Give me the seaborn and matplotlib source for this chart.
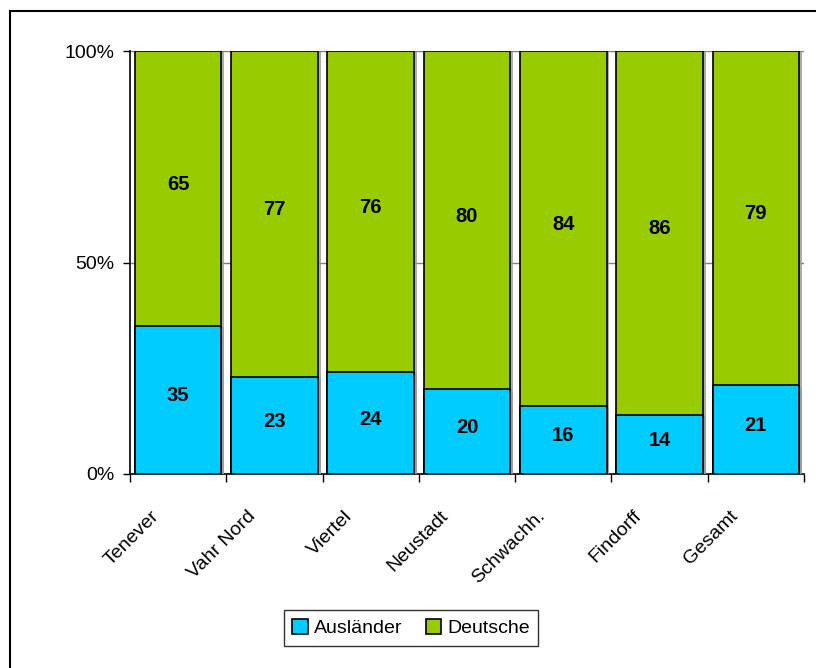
import matplotlib
matplotlib.use('Agg')
import matplotlib.pyplot as plt
import matplotlib.patheffects as pe
from matplotlib.patches import Rectangle
from matplotlib.transforms import ScaledTranslation
import pandas as pd
import seaborn as sns

# Daten (Anteile in %)
stadtteile = ['Tenever', 'Vahr Nord', 'Viertel', 'Neustadt', 'Schwachh.', 'Findorff', 'Gesamt']
auslaender = [35, 23, 24, 20, 16, 14, 21]
deutsche = [65, 77, 76, 80, 84, 86, 79]

blau = '#00CCFF'
gruen = '#99CC00'

sns.set_style('white')
plt.rcParams['font.family'] = ['Liberation Sans', 'DejaVu Sans']
plt.rcParams['text.color'] = 'black'
plt.rcParams['xtick.color'] = 'black'
plt.rcParams['ytick.color'] = 'black'
plt.rcParams['axes.labelcolor'] = 'black'

df = pd.DataFrame({'Stadtteil': stadtteile,
                   'Ausländer': auslaender,
                   'Deutsche': deutsche})
df['Summe'] = df['Ausländer'] + df['Deutsche']

fig = plt.figure(figsize=(8.16, 6.68), dpi=100)
ax = fig.add_axes([130/816, 1-474/668, (804-130)/816, (474-51)/668])

schatten = [pe.SimplePatchShadow(offset=(2, -1), shadow_rgbFace='#999999', alpha=0.8), pe.Normal()]

# gestapelt: erst Gesamtbalken (grün), dann Ausländer (blau) darüber
sns.barplot(data=df, x='Stadtteil', y='Summe', color=gruen, width=0.9,
            edgecolor='black', linewidth=1.2, saturation=1, ax=ax, zorder=3)
sns.barplot(data=df, x='Stadtteil', y='Ausländer', color=blau, width=0.9,
            edgecolor='black', linewidth=1.2, saturation=1, ax=ax, zorder=3)
for p in ax.patches:
    p.set_path_effects(schatten)

# Beschriftung der Segmente (Mitte des jeweiligen Teils)
for i, (a, d) in enumerate(zip(auslaender, deutsche)):
    ax.annotate(str(a), xy=(i, a / 2), xytext=(0, 3), textcoords='offset points',
                ha='center', va='center', fontsize=14.5, fontweight='bold', color='black', zorder=5)
    ax.annotate(str(d), xy=(i, a + d / 2), xytext=(0, 3), textcoords='offset points',
                ha='center', va='center', fontsize=14.5, fontweight='bold', color='black', zorder=5)

ax.set_ylim(0, 100)
ax.set_xlim(-0.5, len(stadtteile) - 0.5)
ax.set_yticks([0, 50, 100])
ax.set_yticklabels(['0%', '50%', '100%'], fontsize=14)
ax.yaxis.grid(True, color='#808080', linewidth=1, zorder=0)
ax.set_axisbelow(True)
ax.set_xlabel('')
ax.set_ylabel('')

for s in ['top', 'right']:
    ax.spines[s].set_visible(False)
for s in ['left', 'bottom']:
    ax.spines[s].set_color('black')
    ax.spines[s].set_linewidth(1.2)

ax.tick_params(axis='y', direction='out', length=5, width=1, color='black', left=True, pad=6)
ax.set_xticks(range(len(stadtteile)))
ax.set_xticklabels(stadtteile, fontsize=14, rotation=45, ha='right', rotation_mode='anchor')
ax.set_xticks([i - 0.5 for i in range(len(stadtteile) + 1)], minor=True)
ax.tick_params(axis='x', which='major', length=0, pad=24)
ax.tick_params(axis='x', which='minor', direction='out', length=6, width=1, color='black', bottom=True)
verschub = ScaledTranslation(-27/100, 0, fig.dpi_scale_trans)
for lab in ax.get_xticklabels():
    lab.set_transform(lab.get_transform() + verschub)

# Legende
griffe = [Rectangle((0, 0), 1, 1, facecolor=blau, edgecolor='black', linewidth=1.2),
          Rectangle((0, 0), 1, 1, facecolor=gruen, edgecolor='black', linewidth=1.2)]
leg = fig.legend(griffe, ['Ausländer', 'Deutsche'], loc='center', bbox_to_anchor=(411/816, 1-628/668),
                 ncol=2, fontsize=14, frameon=True, fancybox=False, handlelength=0.8, handleheight=0.8,
                 handletextpad=0.3, columnspacing=1.2, borderpad=0.45)
leg.get_frame().set_edgecolor('black')
leg.get_frame().set_linewidth(1)

# Rahmen um das ganze Diagramm
fig.patches.append(Rectangle((10/816, -0.1), 1.2, 1 - 11/668 + 0.1, transform=fig.transFigure,
                             fill=False, edgecolor='black', linewidth=1.5))

fig.savefig('out.png', dpi=100)
